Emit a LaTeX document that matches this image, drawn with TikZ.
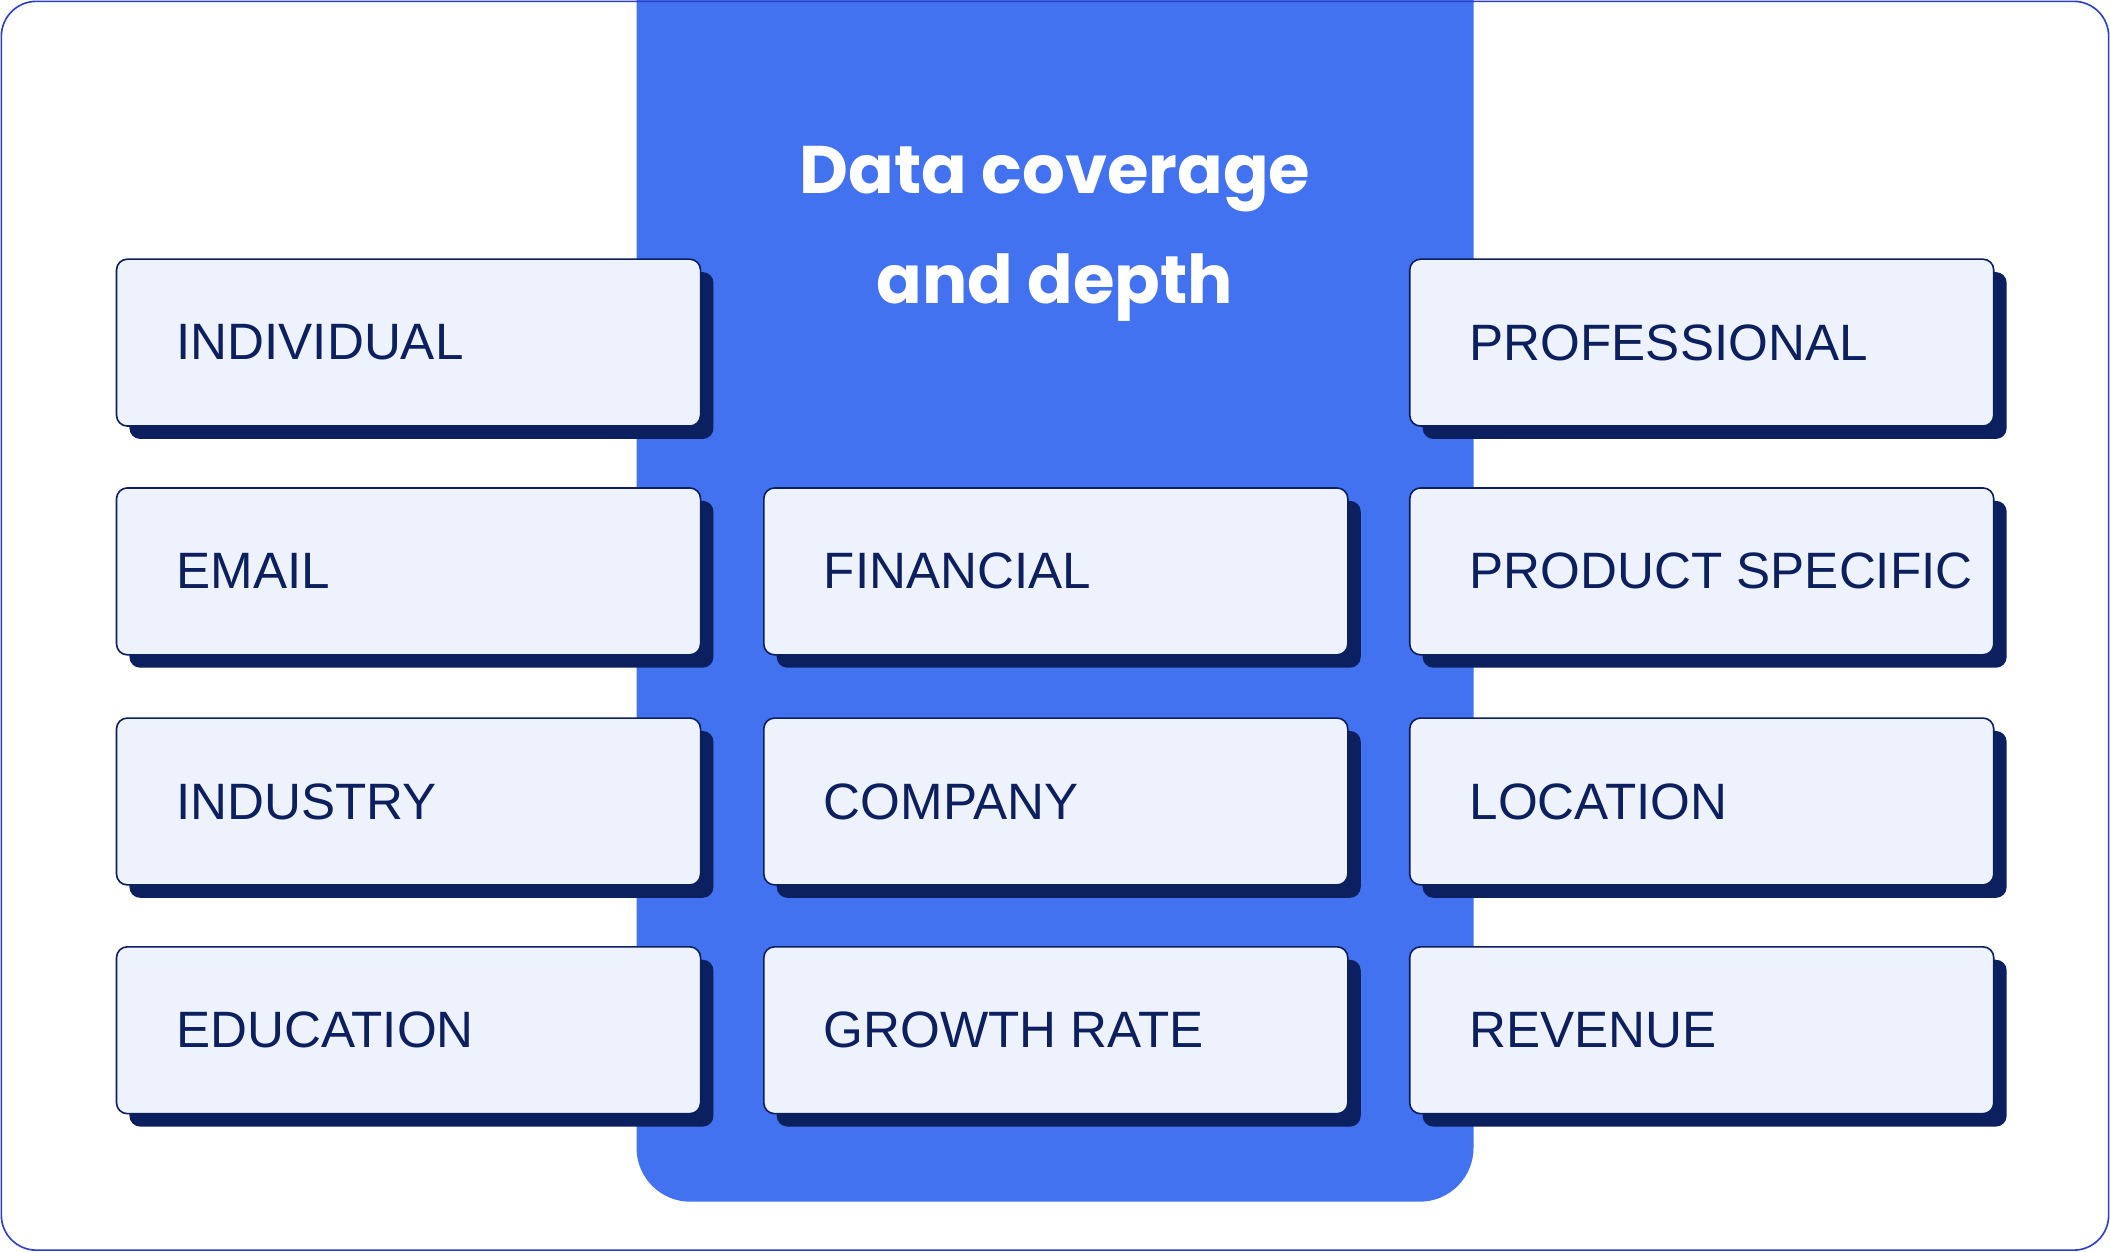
\documentclass[tikz,border=0pt]{standalone}
\usepackage{fontspec}
\setmainfont{Liberation Sans}
\newfontfamily\titlefont{Poppins}
\definecolor{navy}{HTML}{0C1F5E}
\definecolor{boxfill}{HTML}{EEF2FC}
\definecolor{colblue}{HTML}{4272F0}
\definecolor{frame}{HTML}{2B3FC9}
\begin{document}
\begin{tikzpicture}[x=1pt,y=-1pt,
  card/.style={draw=navy,line width=1.2pt,fill=boxfill,rounded corners=8pt,minimum width=434pt,minimum height=124pt,anchor=north west,inner sep=0pt},
  shadow/.style={fill=navy,rounded corners=8pt,minimum width=434pt,minimum height=124pt,anchor=north west,inner sep=0pt},
  lbl/.style={anchor=west,text=navy,font=\fontsize{38}{40}\selectfont,inner sep=0pt}]
\useasboundingbox (0,0) rectangle (1568,930);
\fill[white] (0,0) rectangle (1568,930);
\fill[colblue,rounded corners=40pt] (473,-50) rectangle (1095,893);
\draw[frame,line width=1.2pt,rounded corners=26pt] (1,1) rectangle (1567,929);
\node[text=white,align=center,font=\titlefont\bfseries\fontsize{50}{82}\selectfont] (title) at (784,174) {Data coverage\\and depth};
\foreach \n/\x/\y/\t in {a/86/192/INDIVIDUAL,b/86/362/EMAIL,c/86/533/INDUSTRY,d/86/703/EDUCATION,
  f/567/362/FINANCIAL,g/567/533/COMPANY,h/567/703/GROWTH RATE,
  p/1047/192/PROFESSIONAL,q/1047/362/PRODUCT SPECIFIC,r/1047/533/LOCATION,s/1047/703/REVENUE}{
  \node[shadow] (\n s) at (\x+10,\y+10) {};
  \node[card] (\n) at (\x,\y) {};
  \node[lbl] (\n t) at ([xshift=45pt]\n.west) {\t};
}
\end{tikzpicture}
\end{document}
